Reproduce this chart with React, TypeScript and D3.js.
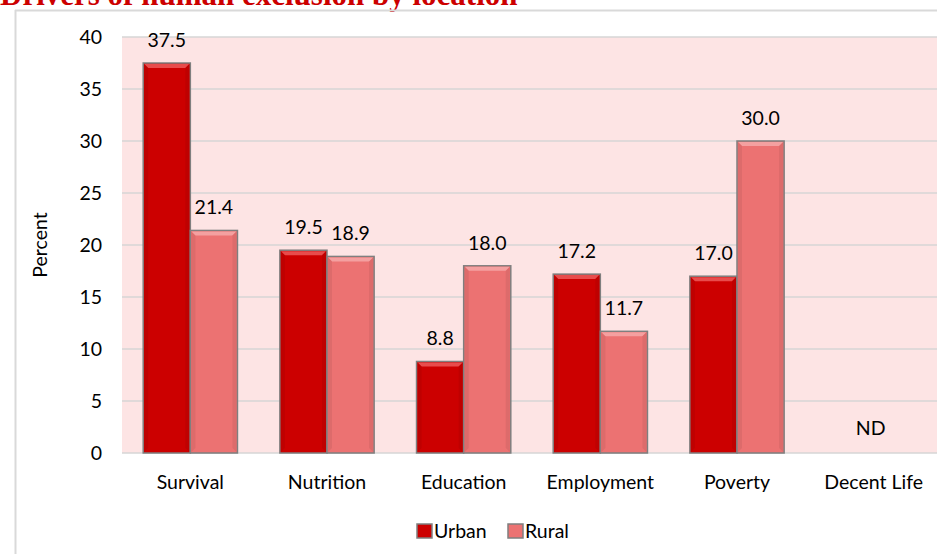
import React from "react";
import * as d3 from "d3";

const categories = ["Survival", "Nutrition", "Education", "Employment", "Poverty", "Decent Life"];
const urban: (number | null)[] = [37.5, 19.5, 8.8, 17.2, 17.0, null];
const rural: (number | null)[] = [21.4, 18.9, 18.0, 11.7, 30.0, null];
const yTicks = [0, 5, 10, 15, 20, 25, 30, 35, 40];
const seriesNames = ["Urban", "Rural"];
const seriesColors = ["#cc0000", "#ec7272"];
const seriesLight = ["#e84c4c", "#f4a0a0"];
const noDataLabel = "ND";
const title = "Drivers of human exclusion by location";

const W = 937;
const H = 554;
const FONT = "Lato, 'Open Sans', sans-serif";
const FS = 19.5;

export default function App() {
  const plotLeft = 122;
  const plotRight = 942;
  const plotTop = 37;
  const plotBottom = 453;

  const x = d3.scaleBand<string>().domain(categories).range([plotLeft, plotRight]).paddingInner(0).paddingOuter(0);
  const inner = d3.scaleBand<string>().domain(seriesNames).range([0, x.bandwidth()]).paddingInner(0).paddingOuter(0.45);
  const y = d3.scaleLinear().domain([0, 40]).range([plotBottom, plotTop]);
  const series = [urban, rural];

  const bev = 5;

  return (
    <svg width={W} height={H} style={{ position: "absolute", left: 0, top: 0 }}>
      <rect x={0} y={0} width={W} height={H} fill="#ffffff" />
      <text x={0} y={5} fontFamily="'Liberation Serif', 'DejaVu Serif', serif" fontWeight="bold" fontSize={31} fill="#cc0000">
        {title}
      </text>
      <line x1={15} x2={W} y1={10.5} y2={10.5} stroke="#d9d9d9" strokeWidth={2} />
      <line x1={15.5} x2={15.5} y1={10} y2={H} stroke="#d9d9d9" strokeWidth={2} />
      <rect x={plotLeft} y={plotTop} width={plotRight - plotLeft} height={plotBottom - plotTop} fill="#fde4e4" />
      {yTicks.map((t) => (
        <g key={t}>
          <line x1={plotLeft} x2={plotRight} y1={y(t)} y2={y(t)} stroke="#d6d6d6" strokeWidth={1.5} />
          <text x={102} y={y(t)} dy="0.36em" textAnchor="end" fontFamily={FONT} fontSize={FS} fill="#000">
            {t}
          </text>
        </g>
      ))}
      <text transform={`translate(47,${(plotTop + plotBottom) / 2}) rotate(-90)`} textAnchor="middle" fontFamily={FONT} fontSize={FS} fill="#000">
        Percent
      </text>
      {categories.map((c, i) => (
        <g key={c}>
          {series.map((s, j) => {
            const v = s[i];
            if (v == null) return null;
            const bx = (x(c) as number) + (inner(seriesNames[j]) as number);
            const bw = inner.bandwidth();
            const by = y(v);
            const bh = plotBottom - by;
            const dark = d3.color(seriesColors[j])!.darker(0.4).toString();
            return (
              <g key={j}>
                <rect x={bx} y={by} width={bw} height={bh} fill={seriesColors[j]} stroke="#7f7f7f" strokeWidth={1.5} />
                <polygon
                  points={`${bx + 1},${by + 1} ${bx + bw - 1},${by + 1} ${bx + bw - bev},${by + bev} ${bx + bev},${by + bev}`}
                  fill={seriesLight[j]}
                />
                <polygon
                  points={`${bx + 1},${by + 1} ${bx + bev},${by + bev} ${bx + bev},${plotBottom - bev} ${bx + 1},${plotBottom - 1}`}
                  fill={dark}
                  opacity={0.5}
                />
                <polygon
                  points={`${bx + bw - 1},${by + 1} ${bx + bw - bev},${by + bev} ${bx + bw - bev},${plotBottom - bev} ${bx + bw - 1},${plotBottom - 1}`}
                  fill={dark}
                  opacity={0.5}
                />
                <text x={bx + bw / 2} y={by - 16} textAnchor="middle" fontFamily={FONT} fontSize={FS} fill="#000">
                  {v.toFixed(1)}
                </text>
              </g>
            );
          })}
          {series.every((s) => s[i] == null) && (
            <text x={(x(c) as number) + x.bandwidth() / 2 - 3} y={plotBottom - 18} textAnchor="middle" fontFamily={FONT} fontSize={FS} fill="#000">
              {noDataLabel}
            </text>
          )}
          <text x={(x(c) as number) + x.bandwidth() / 2} y={489} textAnchor="middle" fontFamily={FONT} fontSize={FS} fill="#000">
            {c}
          </text>
        </g>
      ))}
      {seriesNames.map((n, j) => {
        const lx = j === 0 ? 417 : 508;
        return (
          <g key={n}>
            <rect x={lx} y={524} width={15} height={14} fill={seriesColors[j]} stroke="#7f7f7f" strokeWidth={1.5} />
            <text x={lx + 17} y={538} fontFamily={FONT} fontSize={FS} fill="#000">
              {n}
            </text>
          </g>
        );
      })}
    </svg>
  );
}
